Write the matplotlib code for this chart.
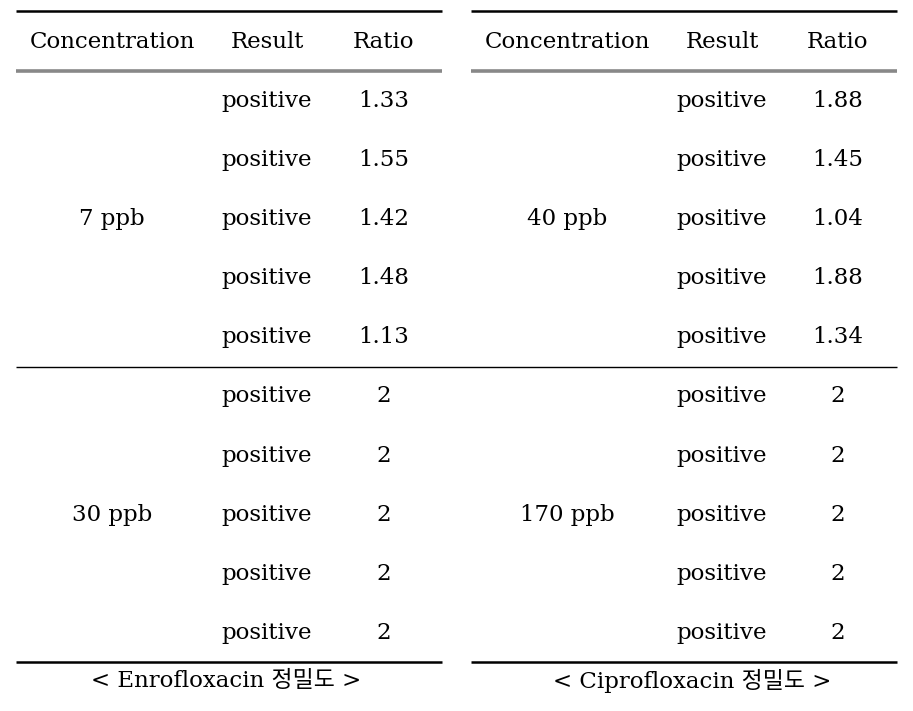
import matplotlib
matplotlib.use("Agg")
import matplotlib.pyplot as plt

# ---- data ----
headers = ["Concentration", "Result", "Ratio"]
enro_conc = ["7 ppb", "30 ppb"]
enro_results = ["positive"] * 10
enro_ratio = [1.33, 1.55, 1.42, 1.48, 1.13, 2, 2, 2, 2, 2]
cipro_conc = ["40 ppb", "170 ppb"]
cipro_results = ["positive"] * 10
cipro_ratio = [1.88, 1.45, 1.04, 1.88, 1.34, 2, 2, 2, 2, 2]
captions = ["< Enrofloxacin 정밀도 >", "< Ciprofloxacin 정밀도 >"]

plt.rcParams['font.family'] = ['DejaVu Serif', 'Noto Sans CJK KR']

W, H = 913, 711
fig = plt.figure(figsize=(W / 100, H / 100), dpi=100)
ax = fig.add_axes([0, 0, 1, 1])
ax.set_xlim(0, W)
ax.set_ylim(H, 0)
ax.axis("off")

fs = 16.5
header_y = 42
row_y = [101, 160, 219, 278, 337, 396, 456, 515, 574, 633]
group_y = [219, 515]

tables = [
    dict(x0=16, x1=442, cols=[112, 267, 384], conc=enro_conc, res=enro_results,
         ratio=enro_ratio, cap=captions[0], capx=226),
    dict(x0=471, x1=897, cols=[567, 722, 838], conc=cipro_conc, res=cipro_results,
         ratio=cipro_ratio, cap=captions[1], capx=692),
]

for t in tables:
    ax.plot([t["x0"], t["x1"]], [11, 11], color="black", lw=1.8, solid_capstyle="butt")
    ax.plot([t["x0"], t["x1"]], [70.5, 70.5], color="#888888", lw=2.6, solid_capstyle="butt")
    ax.plot([t["x0"], t["x1"]], [662, 662], color="black", lw=1.8, solid_capstyle="butt")
    for cx, h in zip(t["cols"], headers):
        ax.text(cx, header_y, h, ha="center", va="center", fontsize=fs)
    for gy, c in zip(group_y, t["conc"]):
        ax.text(t["cols"][0], gy, c, ha="center", va="center", fontsize=fs)
    for y, r, v in zip(row_y, t["res"], t["ratio"]):
        ax.text(t["cols"][1], y, r, ha="center", va="center", fontsize=fs)
        ax.text(t["cols"][2], y, f"{v:g}", ha="center", va="center", fontsize=fs)
    ax.text(t["capx"], 681, t["cap"], ha="center", va="center", fontsize=fs)

# middle separator across both tables
ax.plot([16, 897], [367, 367], color="black", lw=1.0, solid_capstyle="butt")

fig.savefig("out.png", dpi=100)
